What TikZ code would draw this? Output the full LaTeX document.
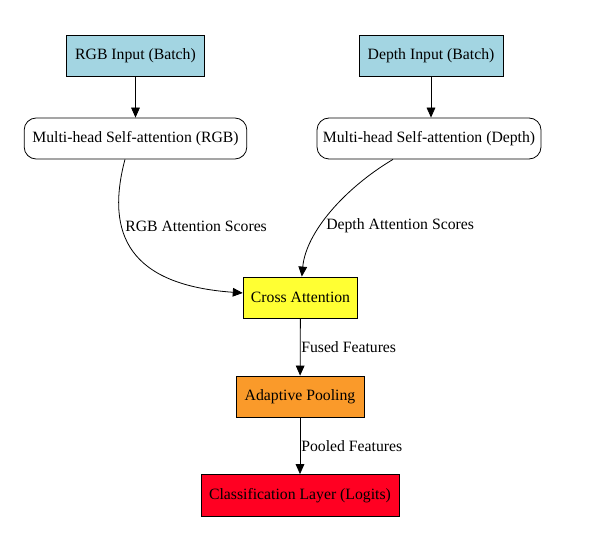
\documentclass[tikz,border=0pt]{standalone}
\usepackage{fontspec}
\setmainfont{Liberation Serif}
\usetikzlibrary{arrows.meta}

\definecolor{inblue}{HTML}{A3D5E2}
\definecolor{crossyellow}{HTML}{FFFF33}
\definecolor{poolorange}{HTML}{FA9A2A}
\definecolor{clsred}{HTML}{FF0022}

\begin{document}
\begin{tikzpicture}[x=0.75pt, y=-0.75pt]
        \tikzstyle{box}=[draw, rectangle, line width=0.6pt, inner sep=0pt, minimum height=30.75pt, font=\fontsize{11.8}{13}\selectfont]
        \tikzstyle{rbox}=[box, rounded corners=9pt, fill=white]
        \tikzstyle{lbl}=[anchor=west, inner sep=0pt, font=\fontsize{11.8}{13}\selectfont]
        \tikzstyle{flow}=[line width=0.6pt, -{Triangle[length=7.5pt, width=6.5pt]}]
        \useasboundingbox (0,0) rectangle (616,534);
        % inputs and self-attention
        \node [box, fill=inblue, minimum width=104pt] (rgbin) at (135.5,56) {RGB Input (Batch)};
        \node [box, fill=inblue, minimum width=108pt] (depthin) at (431,56) {Depth Input (Batch)};
        \node [rbox, minimum width=167pt] (rgbatt) at (135.5,138.5) {Multi-head Self-attention (RGB)};
        \node [rbox, minimum width=168pt] (depthatt) at (429,138.5) {Multi-head Self-attention (Depth)};
        % fusion and head
        \node [box, fill=crossyellow, minimum width=86pt] (cross) at (300.5,297.5) {Cross Attention};
        \node [box, fill=poolorange, minimum width=96pt] (pool) at (300,396.5) {Adaptive Pooling};
        \node [box, fill=clsred, minimum width=148.5pt, minimum height=31.5pt] (cls) at (300,495.5) {Classification Layer (Logits)};
        % edges
        \draw [flow] (rgbin) -- (rgbin |- rgbatt.north);
        \draw [flow] (depthin) -- (depthin |- depthatt.north);
        \draw [flow] ([xshift=-7.9pt]rgbatt.south) .. controls (105,235) and (130,285) .. ([yshift=3.4pt]cross.west);
        \draw [flow] ([xshift=-27pt]depthatt.south) .. controls (345,188) and (306,232) .. ([xshift=1pt]cross.north);
        \draw [flow] (cross) -- (pool);
        \draw [flow] (pool) -- (cls);
        % edge labels
        \node [lbl] (rgbscore) at (125,226) {RGB Attention Scores};
        \node [lbl] (depthscore) at (326,226) {Depth Attention Scores};
        \node [lbl] (fused) at (301,347) {Fused Features};
        \node [lbl] (pooled) at (301,446) {Pooled Features};
\end{tikzpicture}
\end{document}
